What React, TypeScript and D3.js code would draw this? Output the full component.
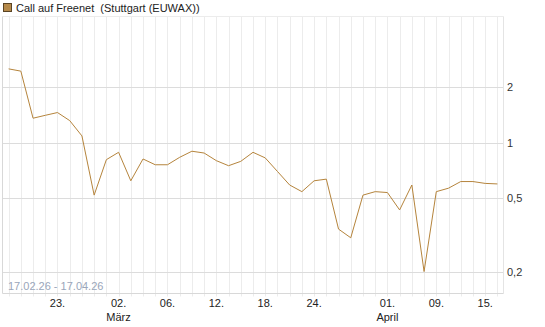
import React from "react";
import * as d3 from "d3";

const dates: string[] = [
  "2026-02-17","2026-02-18","2026-02-19","2026-02-20",
  "2026-02-23","2026-02-24","2026-02-25","2026-02-26","2026-02-27",
  "2026-03-02","2026-03-03","2026-03-04","2026-03-05","2026-03-06",
  "2026-03-09","2026-03-10","2026-03-11","2026-03-12","2026-03-13",
  "2026-03-16","2026-03-17","2026-03-18","2026-03-19","2026-03-20",
  "2026-03-23","2026-03-24","2026-03-25","2026-03-26","2026-03-27",
  "2026-03-30","2026-03-31","2026-04-01","2026-04-02",
  "2026-04-07","2026-04-08","2026-04-09","2026-04-10",
  "2026-04-13","2026-04-14","2026-04-15","2026-04-16",
];

const prices: number[] = [
  2.52, 2.45, 1.36, 1.41, 1.46, 1.32, 1.09, 0.52, 0.81, 0.888,
  0.622, 0.817, 0.76, 0.76, 0.834, 0.9, 0.88, 0.8, 0.751, 0.793,
  0.888, 0.828, 0.699, 0.59, 0.543, 0.622, 0.635, 0.34, 0.305, 0.52,
  0.543, 0.537, 0.432, 0.59, 0.2, 0.543, 0.567, 0.616, 0.616, 0.602, 0.598,
];

const yTicks: number[] = [0.2, 0.5, 1, 2];
const yTickLabels: string[] = ["0,2", "0,5", "1", "2"];
const xTickDays: string[] = ["2026-02-23","2026-03-02","2026-03-06","2026-03-12","2026-03-18","2026-03-24","2026-04-01","2026-04-09","2026-04-15"];
const monthLabels: { date: string; label: string }[] = [
  { date: "2026-03-02", label: "März" },
  { date: "2026-04-01", label: "April" },
];
const title = "Call auf Freenet  (Stuttgart (EUWAX))";
const rangeLabel = "17.02.26 - 17.04.26";

export default function App() {
  const W = 545, H = 327;
  const left = 2.5, right = 503.5, top = 16.5, bottom = 293.5;
  const x = d3.scaleLinear().domain([-0.5, dates.length - 0.5]).range([left, right]);
  const y = d3.scaleLog().domain([0.152, 4.85]).range([bottom, top]);
  const line = d3.line<number>().x((_, i) => x(i)).y((d) => y(d));
  const font = "'Liberation Sans', Arial, sans-serif";
  const idx = (d: string) => dates.indexOf(d);

  return (
    <svg width={W} height={H} style={{ position: "absolute", left: 0, top: 0 }} fontFamily={font}>
      <rect x={0} y={0} width={W} height={H} fill="#fff" />
      {/* legend */}
      <rect x={3.5} y={3.5} width={8} height={8} fill="#b5894a" stroke="#5a4424" strokeWidth={1} />
      <text x={16} y={12} fontSize={11} fill="#222" style={{ whiteSpace: "pre" }}>{title}</text>
      {/* vertical grid */}
      {dates.map((d, i) => (
        <line key={d} x1={Math.round(x(i)) + 0.5} x2={Math.round(x(i)) + 0.5} y1={top} y2={bottom + 3} stroke="#ececec" strokeWidth={1} />
      ))}
      {/* horizontal grid */}
      {yTicks.map((t) => (
        <line key={t} x1={left} x2={right} y1={Math.round(y(t)) + 0.5} y2={Math.round(y(t)) + 0.5} stroke="#dcdcdc" strokeWidth={1} />
      ))}
      <line x1={left} x2={right} y1={top} y2={top} stroke="#ececec" />
      <line x1={left} x2={left} y1={top} y2={bottom} stroke="#d8d8d8" />
      <line x1={right} x2={right} y1={top} y2={bottom} stroke="#e4e4e4" />
      <line x1={left} x2={right} y1={bottom} y2={bottom} stroke="#d8d8d8" />
      {/* y labels */}
      {yTicks.map((t, k) => (
        <text key={t} x={507} y={y(t) + 4} fontSize={11} fill="#333">{yTickLabels[k]}</text>
      ))}
      {/* x labels */}
      {xTickDays.map((d) => (
        <text key={d} x={x(idx(d))} y={307} fontSize={11} fill="#222" textAnchor="middle">
          {d.slice(8, 10) + "."}
        </text>
      ))}
      {monthLabels.map((m) => (
        <text key={m.date} x={x(idx(m.date))} y={321} fontSize={11} fill="#222" textAnchor="middle">{m.label}</text>
      ))}
      <text x={8} y={290} fontSize={11} fill="#9aa6ba">{rangeLabel}</text>
      {/* price line */}
      <path d={line(prices) || ""} fill="none" stroke="#b5843c" strokeWidth={1} />
    </svg>
  );
}
